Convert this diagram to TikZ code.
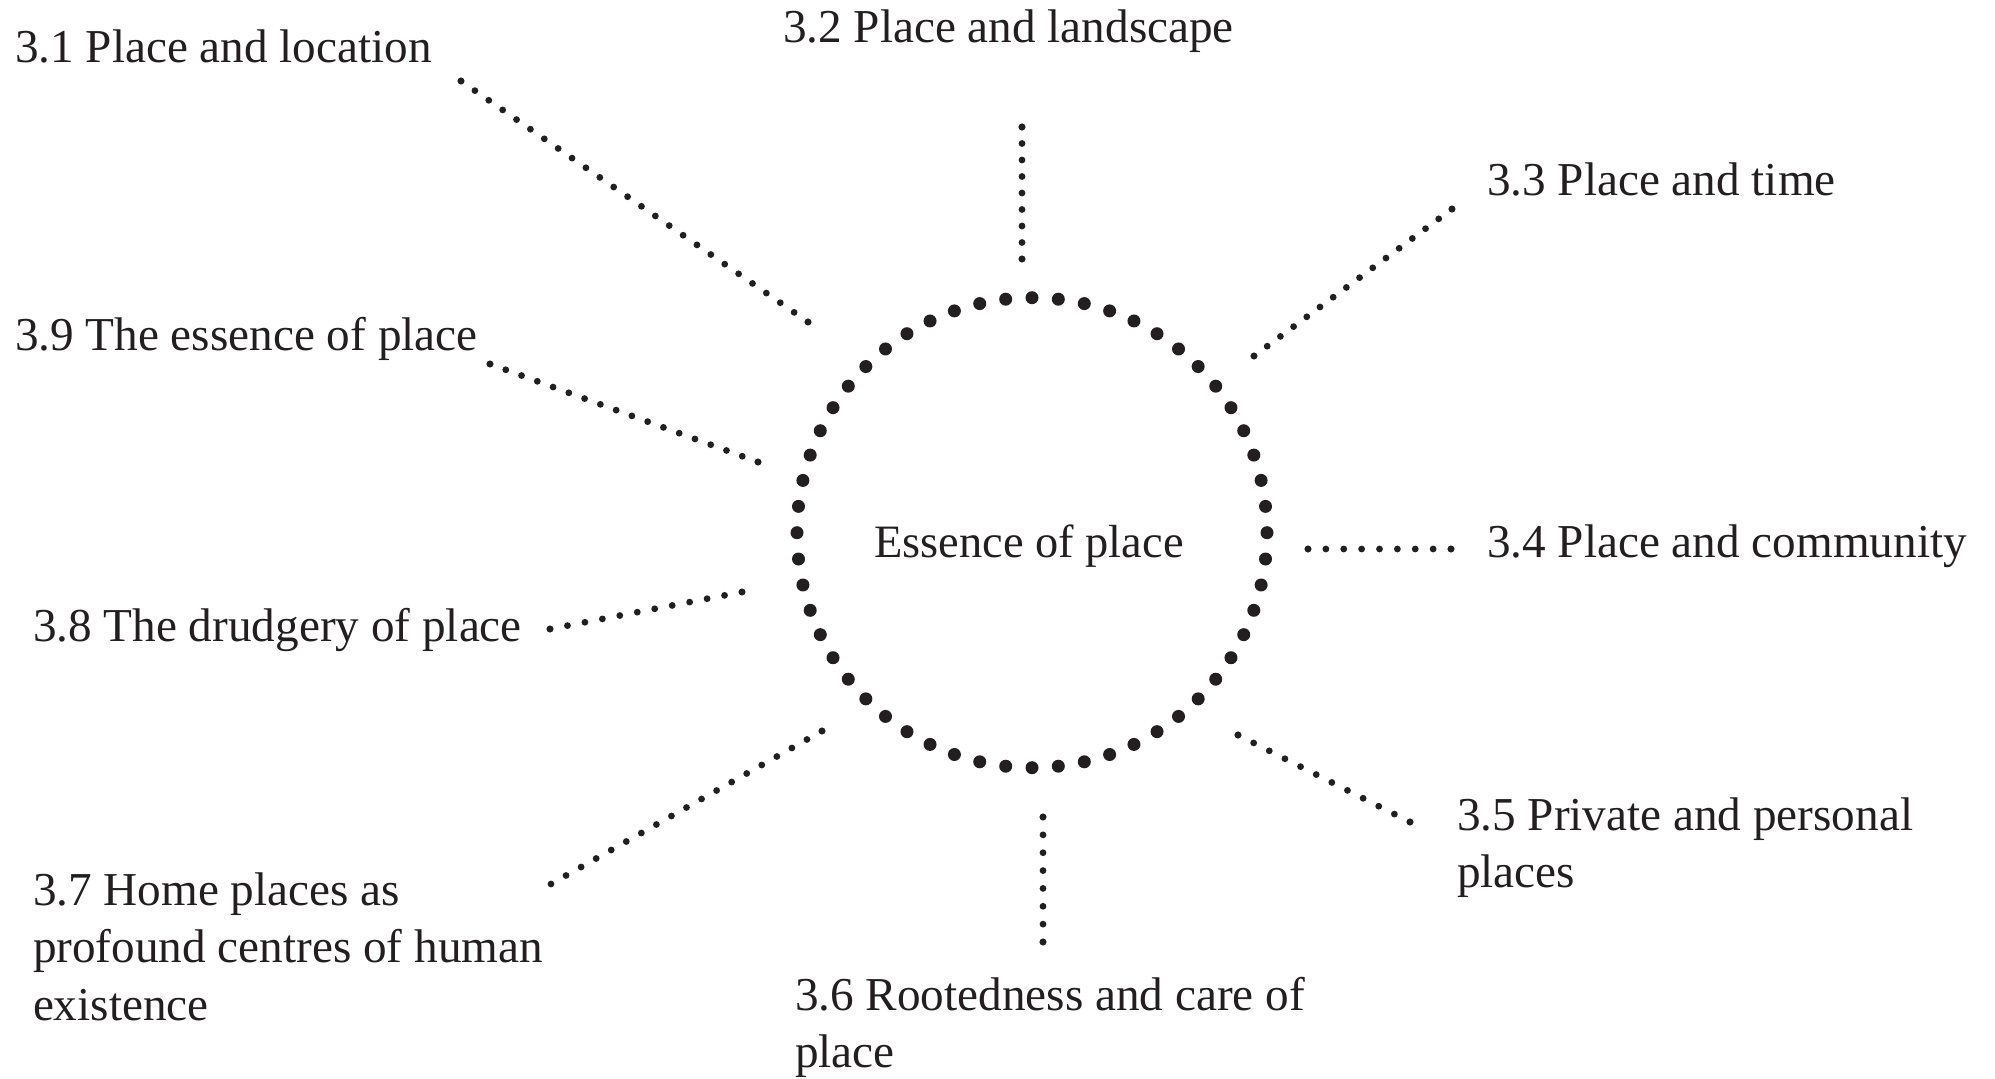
\documentclass[tikz,border=0pt]{standalone}
\usepackage{fontspec}
\usetikzlibrary{decorations}
\setmainfont{Liberation Serif}
\definecolor{ink}{HTML}{231F20}
\begin{document}
\begin{tikzpicture}[x=0.5pt,y=-0.5pt,
  lbl/.style={anchor=base west, inner sep=0pt, outer sep=0pt, text=ink, font=\fontsize{23.6}{28.75}\selectfont},
  conn/.style={draw=ink, line width=3.4pt, line cap=round, dash pattern=on 0pt off 8.2pt, dash expand off},
  enddot/.style={fill=ink},
  ring/.style={circle, minimum size=235pt, inner sep=0pt, outer sep=0pt},
  ringdot/.style={fill=ink}]
\useasboundingbox (0,0) rectangle (1995,1079);
% central ring
\node[ring] (ring) at (1032,532.7) {};
\foreach \k in {0,...,55}
  \fill[ringdot] (ring.center) ++ ({90+\k*6.4285714}:117.5pt) circle (3.25pt);
\node[lbl, anchor=base, font=\fontsize{23.2}{28.75}\selectfont] (ess) at (1029,557) {Essence of place};
% labels
\node[lbl] (l31) at (15,63) {3.1 Place and location};
\node[lbl] (l32) at (783,43) {3.2 Place and landscape};
\node[lbl] (l33) at (1487,196) {3.3 Place and time};
\node[lbl] (l34) at (1487,557) {3.4 Place and community};
\node[lbl] (l35) at (1457,830) {\begin{tabular}[t]{@{}l@{}}3.5 Private and personal\\places\end{tabular}};
\node[lbl] (l36) at (795,1010) {\begin{tabular}[t]{@{}l@{}}3.6 Rootedness and care of\\place\end{tabular}};
\node[lbl] (l37) at (33,905) {\begin{tabular}[t]{@{}l@{}}3.7 Home places as\\profound centres of human\\existence\end{tabular}};
\node[lbl] (l38) at (33,641) {3.8 The drudgery of place};
\node[lbl] (l39) at (15,351) {3.9 The essence of place};
% connector ends
\coordinate (a1) at (808,322);  \coordinate (b1) at (461,81);
\coordinate (a2) at (1022,259); \coordinate (b2) at (1022,127);
\coordinate (a3) at (1254,356); \coordinate (b3) at (1452,209);
\coordinate (a4) at (1308,549); \coordinate (b4) at (1451,549);
\coordinate (a5) at (1238,735); \coordinate (b5) at (1410,822);
\coordinate (a6) at (1043,817); \coordinate (b6) at (1043,942);
\coordinate (a7) at (822,731);  \coordinate (b7) at (551,884);
\coordinate (a8) at (742,592);  \coordinate (b8) at (550,629);
\coordinate (a9) at (758,462);  \coordinate (b9) at (490,364);
\foreach \i in {1,...,9} {
  \draw[conn] (a\i) -- (b\i);
  \fill[enddot] (a\i) circle (1.7pt) (b\i) circle (1.7pt);
}
\end{tikzpicture}
\end{document}
